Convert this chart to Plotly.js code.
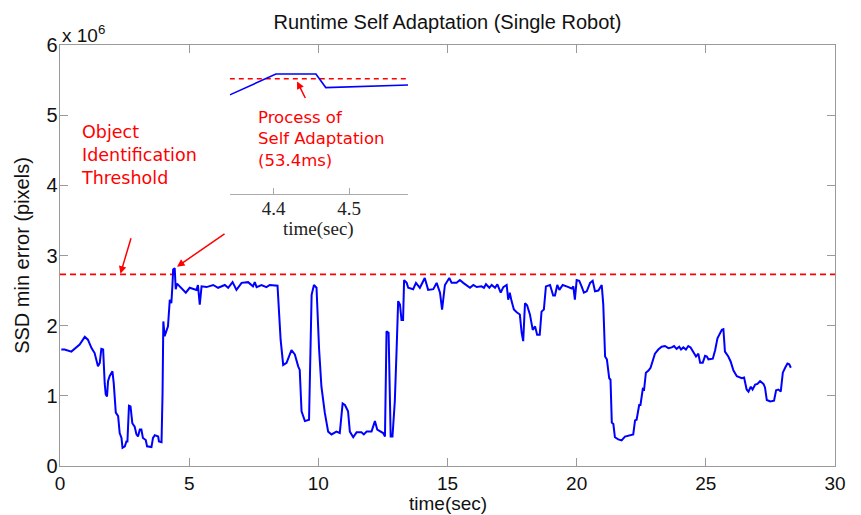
<!DOCTYPE html>
<html>
<head>
<meta charset="utf-8">
<script src="https://cdn.plot.ly/plotly-3.0.1.min.js"></script>
<style>html,body{margin:0;padding:0;background:#fff;}#chart{width:861px;height:515px;}</style>
</head>
<body>
<div id="chart"></div>
<script>
// time (sec)
const timeSec = [0.05,0.18,0.44,0.64,0.76,0.96,1.08,1.22,1.34,1.47,1.54,1.60,1.67,1.73,1.77,1.82,1.86,1.92,2.03,2.08,
2.16,2.25,2.31,2.38,2.42,2.51,2.57,2.61,2.67,2.73,2.80,2.89,2.96,3.02,3.09,3.15,3.21,3.32,3.37,3.54,
3.60,3.67,3.80,3.83,3.93,3.97,4.00,4.05,4.12,4.18,4.25,4.31,4.35,4.38,4.44,4.48,4.53,4.64,4.87,5.02,
5.28,5.34,5.41,5.48,5.67,5.93,6.12,6.38,6.51,6.68,6.83,7.03,7.28,7.47,7.54,7.61,7.80,7.99,8.12,8.42,
8.54,8.64,8.77,8.96,9.09,9.22,9.28,9.35,9.48,9.64,9.74,9.83,9.93,10.03,10.12,10.25,10.38,10.51,10.70,10.83,
10.94,11.03,11.15,11.22,11.35,11.48,11.67,11.76,11.87,12.06,12.19,12.28,12.51,12.58,12.64,12.72,12.80,12.87,12.96,13.03,
13.09,13.16,13.22,13.28,13.32,13.42,13.48,13.67,13.78,13.93,14.12,14.25,14.45,14.58,14.71,14.79,14.90,15.07,15.16,15.35,
15.48,15.61,15.87,16.00,16.13,16.32,16.41,16.49,16.62,16.71,16.84,16.93,17.06,17.16,17.29,17.35,17.41,17.48,17.57,17.68,
17.80,17.87,17.93,18.00,18.08,18.19,18.30,18.39,18.47,18.57,18.64,18.73,18.81,18.97,19.09,19.16,19.25,19.33,19.46,19.61,
19.81,19.87,19.93,20.00,20.10,20.19,20.28,20.39,20.52,20.62,20.71,20.84,20.97,21.03,21.10,21.17,21.26,21.31,21.36,21.42,
21.48,21.61,21.74,21.87,22.00,22.19,22.26,22.32,22.42,22.47,22.56,22.61,22.68,22.78,22.86,22.97,23.03,23.16,23.29,23.42,
23.55,23.68,23.77,23.87,23.97,24.04,24.13,24.23,24.32,24.41,24.52,24.62,24.71,24.78,24.88,24.97,25.04,25.10,25.27,25.36,
25.45,25.53,25.62,25.68,25.74,25.87,25.96,26.07,26.20,26.39,26.48,26.58,26.65,26.74,26.81,26.91,27.00,27.10,27.23,27.29,
27.36,27.49,27.64,27.72,27.81,27.90,27.98,28.07,28.16,28.23,28.29];
// SSD min error (x 10^6 pixels)
const ssdError = [1.66,1.66,1.63,1.70,1.73,1.84,1.80,1.68,1.61,1.42,1.47,1.67,1.66,1.18,1.02,0.99,1.21,1.28,1.35,1.18,
0.76,0.71,0.47,0.40,0.26,0.28,0.35,0.35,0.86,0.85,0.61,0.56,0.45,0.42,0.52,0.52,0.40,0.37,0.28,0.27,
0.40,0.44,0.42,0.35,0.34,1.04,2.06,1.85,1.92,1.99,2.37,2.32,2.56,2.80,2.82,2.52,2.60,2.56,2.47,2.54,
2.51,2.58,2.30,2.56,2.55,2.58,2.54,2.58,2.54,2.62,2.51,2.61,2.62,2.56,2.62,2.55,2.58,2.55,2.58,2.57,
1.80,1.44,1.47,1.65,1.59,1.42,1.37,0.78,0.64,0.66,2.44,2.58,2.54,1.66,1.13,0.76,0.49,0.45,0.49,0.47,
0.89,0.87,0.78,0.49,0.41,0.48,0.48,0.45,0.49,0.49,0.64,0.52,0.47,0.42,1.92,1.90,0.42,0.42,0.92,1.66,
2.35,2.30,2.08,2.08,2.65,2.61,2.54,2.52,2.61,2.54,2.68,2.51,2.52,2.61,2.47,2.23,2.58,2.68,2.61,2.61,
2.65,2.61,2.54,2.58,2.55,2.56,2.54,2.59,2.54,2.58,2.54,2.59,2.47,2.55,2.58,2.37,2.47,2.35,2.23,2.19,
2.16,1.90,1.78,2.32,2.29,2.16,1.94,1.99,1.87,1.87,2.20,2.23,2.56,2.58,2.43,2.43,2.58,2.51,2.58,2.56,
2.53,2.56,2.37,2.65,2.64,2.56,2.47,2.49,2.61,2.64,2.49,2.50,2.58,2.30,1.56,1.52,1.25,1.23,0.62,0.60,
0.41,0.38,0.365,0.42,0.43,0.45,0.65,0.66,0.87,0.87,1.10,1.09,1.33,1.36,1.40,1.51,1.60,1.66,1.70,1.71,
1.68,1.69,1.71,1.67,1.70,1.66,1.69,1.66,1.71,1.69,1.63,1.56,1.60,1.47,1.47,1.57,1.56,1.52,1.53,1.65,
1.82,1.87,1.94,1.95,1.63,1.56,1.49,1.36,1.28,1.25,1.26,1.09,1.06,1.13,1.09,1.16,1.17,1.21,1.17,1.12,
0.94,0.92,0.93,1.08,1.09,1.06,1.33,1.40,1.46,1.45,1.40];
const thresholdValue = 2.73;
const thresholdTime = [0, 30];
// inset: zoom of the self-adaptation step
const insetTime = [4.342, 4.403, 4.456, 4.469, 4.578];
const insetError = [2.42, 2.82, 2.82, 2.56, 2.61];
const insetRange = [4.342, 4.578];
const xTicks = [0, 5, 10, 15, 20, 25, 30];
const yTicks = [0, 1, 2, 3, 4, 5, 6];
const insetTicks = [4.4, 4.5];

const sans = 'Liberation Sans, Arial, sans-serif';
const serif = 'Liberation Serif, Times New Roman, serif';
const redFont = 'DejaVu Sans, sans-serif';
const axisGray = '#9a9a9a';

const traces = [
  {x: thresholdTime, y: [thresholdValue, thresholdValue], mode: 'lines',
   line: {color: '#ff0000', width: 1.8, dash: '6px,4px'}, hoverinfo: 'skip'},
  {x: timeSec, y: ssdError, mode: 'lines', line: {color: '#0000ff', width: 2}},
  {x: insetRange, y: [thresholdValue, thresholdValue], xaxis: 'x2', yaxis: 'y2', mode: 'lines',
   line: {color: '#ff0000', width: 1.6, dash: '5px,4px'}},
  {x: insetTime, y: insetError, xaxis: 'x2', yaxis: 'y2', mode: 'lines',
   line: {color: '#0000ff', width: 1.6}}
];

const layout = {
  width: 861, height: 515,
  margin: {l: 60.3, r: 26, t: 45.3, b: 48.7},
  paper_bgcolor: '#ffffff', plot_bgcolor: '#ffffff',
  showlegend: false,
  title: {text: 'Runtime Self Adaptation (Single Robot)', font: {family: sans, size: 20, color: '#111'},
          x: 0.5198, xanchor: 'center', y: 0.957, yanchor: 'middle'},
  xaxis: {range: [0, 30], tickvals: xTicks, ticks: 'inside', ticklen: 8, tickwidth: 1.2,
          tickcolor: axisGray, showline: true, linecolor: axisGray, linewidth: 1.3, mirror: 'ticks',
          showgrid: false, zeroline: false, tickfont: {family: sans, size: 19, color: '#111'}},
  yaxis: {range: [0, 6], tickvals: yTicks, ticks: 'inside', ticklen: 8, tickwidth: 1.2,
          tickcolor: axisGray, showline: true, linecolor: axisGray, linewidth: 1.3, mirror: 'ticks',
          showgrid: false, zeroline: false, tickfont: {family: sans, size: 20, color: '#111'},
          ticklabelstandoff: -3,
          title: {text: 'SSD min error (pixels)', font: {family: sans, size: 20, color: '#111'}, standoff: 11}},
  xaxis2: {domain: [0.2191, 0.4492], anchor: 'y2', range: insetRange, tickvals: insetTicks,
           ticks: 'inside', ticklen: 6, tickcolor: '#aaaaaa', showline: true, linecolor: '#aaaaaa',
           linewidth: 1.2, showgrid: false, zeroline: false, ticklabelstandoff: -3,
           tickfont: {family: serif, size: 19, color: '#222'}},
  yaxis2: {domain: [0.6461, 0.9651], anchor: 'x2', range: [0.522, 3.094], visible: false},
  annotations: [
    {xref: 'paper', yref: 'paper', x: 0.5, y: -0.0896, xanchor: 'center', yanchor: 'middle',
     text: 'time(sec)', showarrow: false, font: {family: sans, size: 19, color: '#111'}},
    {xref: 'x2', yref: 'paper', x: 4.46, y: 0.5628, xanchor: 'center', yanchor: 'middle',
     text: 'time(sec)', showarrow: false, font: {family: serif, size: 19, color: '#222'}},
    {xref: 'paper', yref: 'paper', x: 0, y: 1, xanchor: 'left', yanchor: 'bottom', yshift: -3,
     text: 'x 10<sup>6</sup>', showarrow: false, font: {family: sans, size: 19, color: '#111'}},
    {xref: 'paper', yref: 'paper', x: 0.0241, y: 0.7394, xanchor: 'left', yanchor: 'middle', align: 'left',
     text: 'Object<br>Identification<br>Threshold', showarrow: false,
     font: {family: redFont, size: 17.5, color: '#ff0000'}},
    {xref: 'paper', yref: 'paper', x: 0.2526, y: 0.7774, xanchor: 'left', yanchor: 'middle', align: 'left',
     text: 'Process of<br>Self Adaptation<br>(53.4ms)', showarrow: false,
     font: {family: redFont, size: 16.5, color: '#ff0000'}},
    {xref: 'x', yref: 'y', x: 2.34, y: 2.74, ax: 11, ay: -37, text: '', showarrow: true,
     arrowhead: 2, arrowsize: 1, arrowwidth: 1.5, arrowcolor: '#ff0000', standoff: 0},
    {xref: 'x', yref: 'y', x: 4.53, y: 2.84, ax: 49, ay: -34, text: '', showarrow: true,
     arrowhead: 2, arrowsize: 1, arrowwidth: 1.5, arrowcolor: '#ff0000', standoff: 0},
    {xref: 'x2', yref: 'y2', x: 4.431, y: 2.677, ax: 9, ay: 18, text: '', showarrow: true,
     arrowhead: 2, arrowsize: 1, arrowwidth: 1.5, arrowcolor: '#ff0000', standoff: 0}
  ]
};

Plotly.newPlot('chart', traces, layout, {displayModeBar: false, staticPlot: true});
</script>
</body>
</html>
